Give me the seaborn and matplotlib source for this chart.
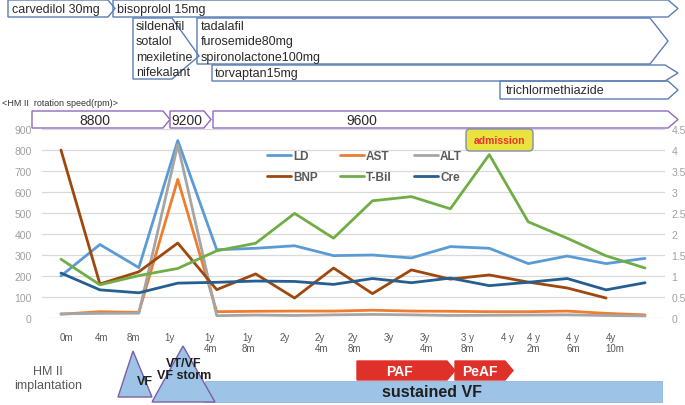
import numpy as np
import pandas as pd
import matplotlib.pyplot as plt
import seaborn as sns
from matplotlib.patches import Polygon, FancyBboxPatch, Rectangle
from matplotlib.lines import Line2D

# --- data ---
time_labels = ["0m", "4m", "8m", "1y", "1y\n4m", "1y\n8m", "2y", "2y\n4m", "2y\n8m",
               "3y", "3y\n4m", "3 y\n8m", "4 y", "4 y\n2m", "4 y\n6m", "4y\n10m"]
ld = [200, 350, 240, 845, 325, 332, 344, 297, 300, 286, 340, 332, 259, 295, 259, 284]
ast = [18, 30, 27, 660, 30, 32, 33, 33, 37, 33, 32, 30, 30, 33, 22, 15]
alt = [20, 22, 23, 825, 11, 14, 12, 15, 17, 15, 12, 13, 14, 15, 12, 10]
bnp = [800, 162, 220, 357, 135, 210, 95, 238, 116, 229, 185, 205, 171, 143, 95, np.nan]
tbil = [1.40, 0.79, 1.01, 1.18, 1.60, 1.78, 2.49, 1.90, 2.79, 2.89, 2.60, 3.89, 2.29, 1.90, 1.48, 1.19]
cre = [1.07, 0.67, 0.60, 0.83, 0.85, 0.88, 0.87, 0.80, 0.94, 0.84, 0.95, 0.77, 0.85, 0.94, 0.67, 0.84]

left_names = ["LD", "AST", "ALT", "BNP"]
right_names = ["T-Bil", "Cre"]
colors = {"LD": "#5B9BD5", "AST": "#ED7D31", "ALT": "#A5A5A5",
          "BNP": "#9E480E", "T-Bil": "#70AD47", "Cre": "#255E91"}

drugs_top = ["carvedilol 30mg", "bisoprolol 15mg"]
drugs_mid = ["sildenafil", "sotalol", "mexiletine", "nifekalant"]
drugs_right = ["tadalafil", "furosemide80mg", "spironolactone100mg"]
drug_torvaptan = "torvaptan15mg"
drug_trichlor = "trichlormethiazide"
rpm_labels = ["8800", "9200", "9600"]

# tick label placement in category units (labels are shifted in the original)
tick_pos = [0.13, 1.03, 1.87, 2.79, 3.85, 4.82, 5.74, 6.69, 7.54,
            8.41, 9.38, 10.44, 11.46, 12.13, 13.15, 14.23]

t = np.arange(len(time_labels))
df_left = pd.DataFrame({"t": np.tile(t, 4),
                        "value": ld + ast + alt + bnp,
                        "series": np.repeat(left_names, len(t))}).dropna()
df_right = pd.DataFrame({"t": np.tile(t, 2),
                         "value": tbil + cre,
                         "series": np.repeat(right_names, len(t))})

sns.set_theme(style="white")
plt.rcParams['font.family'] = ['Liberation Sans', 'DejaVu Sans']

fig = plt.figure(figsize=(6.85, 4.06), dpi=100)
W, H = 685, 406
ax = fig.add_axes([41.5 / W, (H - 319) / H, 623 / W, 189 / H])
ax.set_facecolor("none")

sns.lineplot(data=df_left, x="t", y="value", hue="series", hue_order=left_names,
             palette=colors, ax=ax, linewidth=2, legend=False, errorbar=None)
ax.set_xlim(-0.5, 15.5)
ax.set_ylim(0, 900)
ax.set_yticks(np.arange(0, 901, 100))
ax.yaxis.grid(True, color="#D9D9D9", lw=0.9)
ax.set_xticks(tick_pos, time_labels)
for lab in ax.get_xticklabels():
    lab.set_multialignment("left")
ax.tick_params(axis="x", length=0, pad=10, labelsize=7, labelcolor="#595959")
ax.tick_params(axis="y", length=0, pad=7, labelsize=7.5, labelcolor="#A0A0A0")
ax.set_xlabel("")
ax.set_ylabel("")
for s in ax.spines.values():
    s.set_visible(False)

ax2 = ax.twinx()
sns.lineplot(data=df_right, x="t", y="value", hue="series", hue_order=right_names,
             palette=colors, ax=ax2, linewidth=2, legend=False, errorbar=None)
ax2.set_ylim(0, 4.5)
ax2.set_yticks(np.arange(0, 4.51, 0.5))
ax2.set_yticklabels(["0", "0.5", "1", "1.5", "2", "2.5", "3", "3.5", "4", "4.5"])
ax2.tick_params(axis="y", length=0, pad=5, labelsize=7.5, labelcolor="#A0A0A0")
ax2.set_ylabel("")
for s in ax2.spines.values():
    s.set_visible(False)

order = ["LD", "BNP", "AST", "T-Bil", "ALT", "Cre"]
handles = [Line2D([], [], color=colors[n], lw=2) for n in order]
leg = ax2.legend(handles, order, ncol=3, loc="upper left", frameon=False,
                 bbox_to_anchor=(261 / W, 1 - 145 / H), bbox_transform=fig.transFigure,
                 borderpad=0, handlelength=2.0, handletextpad=0.2, columnspacing=1.9,
                 labelspacing=0.75, prop={"size": 8.5, "weight": "bold"})
for txt in leg.get_texts():
    txt.set_color("#595959")

# --- overlay in pixel coordinates for the timeline annotations ---
ov = fig.add_axes([0, 0, 1, 1], zorder=5)
ov.set_xlim(0, W)
ov.set_ylim(H, 0)
ov.axis("off")
ov.patch.set_alpha(0)


def arrow_box(x0, x1, tip, y0, y1, ec, fc="none", lw=1.0):
    pts = [(x0, y0), (x1, y0), (tip, (y0 + y1) / 2), (x1, y1), (x0, y1)]
    ov.add_patch(Polygon(pts, closed=True, ec=ec, fc=fc, lw=lw))


blue_edge = "#5A7DB6"
arrow_box(8, 108, 115, 1, 18, blue_edge)
arrow_box(113, 668, 678, 1, 18, blue_edge)
ov.add_patch(Polygon([(133, 19), (172, 19), (199, 57), (172, 80), (133, 80)],
                     closed=True, ec=blue_edge, fc="none", lw=1))
arrow_box(197, 650, 668, 19, 65, blue_edge)
arrow_box(212, 665, 678, 66, 82, blue_edge)
arrow_box(500, 668, 678, 82, 100, blue_edge)

fs = 9
tc = "#2A2A2A"
ov.text(12, 10, drugs_top[0], fontsize=fs, va="center", color=tc)
ov.text(117, 10, drugs_top[1], fontsize=fs, va="center", color=tc)
for i, d in enumerate(drugs_mid):
    ov.text(136, 27 + i * 15.3, d, fontsize=fs, va="center", color=tc)
for i, d in enumerate(drugs_right):
    ov.text(201, 27 + i * 15.3, d, fontsize=fs, va="center", color=tc)
ov.text(215, 74, drug_torvaptan, fontsize=fs, va="center", color=tc)
ov.text(506, 91, drug_trichlor, fontsize=fs, va="center", color=tc)
ov.text(2, 103, "<HM II  rotation speed(rpm)>", fontsize=6.5, va="center", color="#333333")

purple = "#9069BD"
arrow_box(32, 163, 170, 112, 129, purple, fc="white")
arrow_box(170, 204, 211, 112, 129, purple, fc="white")
arrow_box(213, 668, 678, 112, 129, purple, fc="white")
for x, lab in zip([95, 187, 362], rpm_labels):
    ov.text(x, 121, lab, fontsize=10, ha="center", va="center", color=tc)

ov.add_patch(FancyBboxPatch((466, 130), 67, 22, boxstyle="round,pad=0,rounding_size=4",
                            fc="#EAE33F", ec="#7F8FA9", lw=1))
ov.text(499.5, 141, "admission", fontsize=7.5, fontweight="bold", color="#E8322B",
        ha="center", va="center")

# bottom events
ov.text(48, 379, "HM II\nimplantation", fontsize=9, ha="center", va="center",
        color="#595959", linespacing=1.2)
ov.add_patch(Rectangle((205, 382), 457, 21, fc="#9DC3E6", ec="#8FB4DA", lw=0.6))
ov.add_patch(Polygon([(118, 398), (152, 398), (133, 352)], closed=True,
                     fc="#9DC3E6", ec="#7B5EA7", lw=1))
ov.add_patch(Polygon([(152, 403), (215, 403), (183, 347)], closed=True,
                     fc="#9DC3E6", ec="#7B5EA7", lw=1))
ov.text(145, 382, "VF", fontsize=9, fontweight="bold", ha="center", va="center", color="#1F1F1F")
ov.text(184, 370, "VT/VF\nVF storm", fontsize=9, fontweight="bold", ha="center",
        va="center", color="#1F1F1F", linespacing=1.1)
ov.text(432, 393, "sustained VF", fontsize=11.5, fontweight="bold", ha="center",
        va="center", color="#1F1F1F")

red = "#E0302A"
arrow_box(357, 447, 455, 362, 381, red, fc=red)
arrow_box(455, 505, 513, 362, 381, red, fc=red)
ov.text(400, 372, "PAF", fontsize=10, fontweight="bold", color="white", ha="center", va="center")
ov.text(480, 372, "PeAF", fontsize=10, fontweight="bold", color="white", ha="center", va="center")

fig.savefig("out.png", dpi=100)
